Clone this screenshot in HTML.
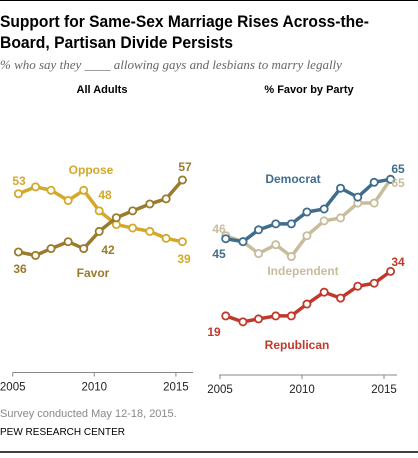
<!DOCTYPE html>
<html><head><meta charset="utf-8"><style>
body{margin:0;width:418px;height:453px;background:#fff;overflow:hidden;font-family:"Liberation Sans",Arial,sans-serif}
</style></head><body>
<svg id="c" width="418" height="453" xmlns="http://www.w3.org/2000/svg" font-family="Liberation Sans, Arial, sans-serif">
<line x1="0" y1="0.5" x2="418" y2="0.5" stroke="#000" stroke-width="1"/>
<text x="0" y="27" font-size="17" font-weight="bold" fill="#000" textLength="369" lengthAdjust="spacingAndGlyphs">Support for Same-Sex Marriage Rises Across-the-</text>
<text x="0" y="48" font-size="17" font-weight="bold" fill="#000" textLength="233" lengthAdjust="spacingAndGlyphs">Board, Partisan Divide Persists</text>
<text x="0" y="69" font-size="13" font-style="italic" fill="#666" font-family="Liberation Serif, serif">% who say they ____ allowing gays and lesbians to marry legally</text>
<text x="102" y="93" font-size="11" font-weight="bold" text-anchor="middle" fill="#000">All Adults</text>
<text x="309" y="93" font-size="11" font-weight="bold" text-anchor="middle" fill="#000">% Favor by Party</text>
<g id="left"></g>
<g id="right"></g>
<text x="0" y="417" font-size="11" fill="#888">Survey conducted May 12-18, 2015.</text>
<text x="0" y="435" font-size="10" fill="#000">PEW RESEARCH CENTER</text>
<line x1="0" y1="452" x2="418" y2="452" stroke="#000" stroke-width="1.5"/>
</svg>
<script>
const years = [2005.35,2006.4,2007.35,2008.4,2009.35,2010.3,2011.35,2012.35,2013.4,2014.4,2015.4];
const favor = [36,35,37,39,37,42,46,48,50,51.5,57];
const oppose = [53,55,54,51,54,48,44,43,42,40,39];
const democrat = [45,44,48,50,50,54,55,62,59,64,65];
const independent = [46,44,40,43,39,46,51,52,57,57,65];
const republican = [19,17,18,19,19,23,27,25,29,30,34];
const tickYears = [2005,2010,2015];

const NS="http://www.w3.org/2000/svg";
function mk(parent,tag,attrs){const e=document.createElementNS(NS,tag);for(const k in attrs)e.setAttribute(k,attrs[k]);parent.appendChild(e);return e;}
function lx(y){return 12.7+(y-2005)*16.32;}
function ly(v){return 252-(v-36)*3.43;}
function rx(y){return 220+(y-2005)*16.4;}
function ry(v){return 238.7-(v-45)*2.97;}

function series(g,vals,xf,yf,color,name){
  const pts=vals.map((v,i)=>[xf(years[i]),yf(v)]);
  const p=mk(g,'polyline',{points:pts.map(p=>p.join(',')).join(' '),fill:'none',stroke:color,'stroke-width':3.5,'stroke-linejoin':'round'});
  
  
  pts.forEach((q,i)=>{
    const c=mk(g,'circle',{cx:q[0],cy:q[1],r:3.6,fill:'#fff',stroke:color,'stroke-width':1.8});
    
    
  });
}
function label(g,x,y,t,color,name,anchor){
  const e=mk(g,'text',{x:x,y:y,'font-size':12,'font-weight':'bold',fill:color,'text-anchor':anchor||'middle'});
  e.textContent=t;
  
  
}
function axis(g,xf,y0,x1,x2,name){
  const l=mk(g,'line',{x1:x1,y1:y0,x2:x2,y2:y0,stroke:'#888','stroke-width':1});
  
  
  tickYears.forEach(t=>{
    const tk=mk(g,'line',{x1:xf(t),y1:y0,x2:xf(t),y2:y0+4,stroke:'#888'});
    
    
    const tx=mk(g,'text',{x:xf(t),y:y0+18,'font-size':11.5,fill:'#222','text-anchor':'middle'});
    tx.textContent=t;
    
    
  });
}
const L=document.getElementById('left'), R=document.getElementById('right');
const FAV='#9a7b2b', OPP='#d4a82a', DEM='#3f6d8e', IND='#c8bc9c', REP='#c0392b';
axis(L,lx,372.5,12.7,193,'left');
series(L,oppose,lx,ly,OPP,'oppose');
series(L,favor,lx,ly,FAV,'favor');
label(L,91,174,'Oppose',OPP,'oppose-label');
label(L,93,277,'Favor',FAV,'favor-label');
label(L,19,185,oppose[0],OPP,'oppose-start-value');
label(L,105,199,'48',OPP,'oppose-2010-value');
label(L,184,263,oppose[oppose.length-1],OPP,'oppose-end-value');
label(L,20,273,favor[0],FAV,'favor-start-value');
label(L,108,254,'42',FAV,'favor-2010-value');
label(L,185,171,favor[favor.length-1],FAV,'favor-end-value');

axis(R,rx,375,219,397,'right');
series(R,republican,rx,ry,REP,'republican');
series(R,independent,rx,ry,IND,'independent');
series(R,democrat,rx,ry,DEM,'democrat');
label(R,293,183,'Democrat',DEM,'democrat-label');
label(R,303,275,'Independent',IND,'independent-label');
label(R,297,349,'Republican',REP,'republican-label');
label(R,398,173,democrat[democrat.length-1],DEM,'democrat-end-value');
label(R,398,187,independent[independent.length-1],IND,'independent-end-value');
label(R,219,233,independent[0],IND,'independent-start-value');
label(R,219,258,democrat[0],DEM,'democrat-start-value');
label(R,214,336,republican[0],REP,'republican-start-value');
label(R,398,266,republican[republican.length-1],REP,'republican-end-value');
</script>
</body></html>
